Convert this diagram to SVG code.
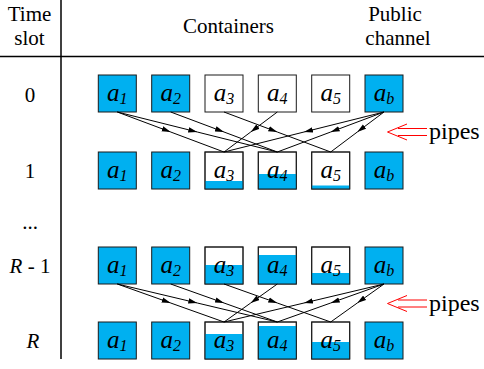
<svg xmlns="http://www.w3.org/2000/svg" width="484" height="369" viewBox="0 0 484 369" font-family="'Liberation Serif', 'Times New Roman', serif">
<defs>
<style>
text{font-family:'Liberation Serif','Times New Roman',serif;fill:#000}
.t{font-size:21px}
.hd{text-anchor:middle}
.it{font-style:italic}
.pp{font-size:24px}
.lbl{font-style:italic;font-size:25px;text-anchor:middle}
.sub{font-size:16px}
.box{fill:#fff;stroke:#1a1a1a;stroke-width:1}
.full{fill:#00B0F0;stroke:#1a1a1a;stroke-width:1}
.lvl{fill:#00B0F0;stroke:none}
.frame{fill:none;stroke:#1a1a1a;stroke-width:1}
.edge{fill:none;stroke:#000;stroke-width:1;marker-mid:url(#ah)}
.red{fill:none;stroke:#FF0000;stroke-width:1}
.rule{stroke:#000;stroke-width:1.5}
</style>
<marker id="ah" viewBox="0 0 10 6" refX="10" refY="3" markerWidth="9" markerHeight="6" markerUnits="userSpaceOnUse" orient="auto">
<path d="M0,0 L10,3 L0,6 Z" fill="#000"/>
</marker>
</defs>
<rect width="484" height="369" fill="#fff"/>
<g id="table">
<line class="rule" x1="61" y1="0" x2="61" y2="359"/>
<line class="rule" x1="0" y1="56.5" x2="484" y2="56.5"/>
<text class="t hd" x="29.5" y="21">Time</text>
<text class="t hd" x="29.5" y="45">slot</text>
<text class="t hd" x="228.5" y="33">Containers</text>
<text class="t hd" x="395" y="21">Public</text>
<text class="t hd" x="398" y="45">channel</text>
<text class="t hd" x="30" y="102">0</text>
<text class="t hd" x="30" y="178">1</text>
<text class="t hd" x="30" y="229">...</text>
<text class="t hd" x="30" y="273"><tspan class="it">R</tspan> - 1</text>
<text class="t hd it" x="33" y="348">R</text>
</g>
<g id="row0">
<g id="r0a1"><rect class="full" x="98.3" y="75" width="38" height="37"/><text class="lbl" x="117.3" y="101">a<tspan class="sub" dy="3">1</tspan></text></g>
<g id="r0a2"><rect class="full" x="151.7" y="75" width="38" height="37"/><text class="lbl" x="170.7" y="101">a<tspan class="sub" dy="3">2</tspan></text></g>
<g id="r0a3"><rect class="box" x="205" y="75" width="38" height="37"/><text class="lbl" x="224" y="101">a<tspan class="sub" dy="3">3</tspan></text></g>
<g id="r0a4"><rect class="box" x="258.3" y="75" width="38" height="37"/><text class="lbl" x="277.3" y="101">a<tspan class="sub" dy="3">4</tspan></text></g>
<g id="r0a5"><rect class="box" x="311.7" y="75" width="38" height="37"/><text class="lbl" x="330.7" y="101">a<tspan class="sub" dy="3">5</tspan></text></g>
<g id="r0ab"><rect class="full" x="365" y="75" width="38" height="37"/><text class="lbl" x="384" y="101">a<tspan class="sub" dy="3">b</tspan></text></g>
</g>
<g id="row1">
<g id="r1a1"><rect class="full" x="98.3" y="152" width="38" height="37"/><text class="lbl" x="117.3" y="178">a<tspan class="sub" dy="3">1</tspan></text></g>
<g id="r1a2"><rect class="full" x="151.7" y="152" width="38" height="37"/><text class="lbl" x="170.7" y="178">a<tspan class="sub" dy="3">2</tspan></text></g>
<g id="r1a3"><rect class="box" x="205" y="152" width="38" height="37"/><rect class="lvl" x="205" y="181" width="38" height="8"/><rect class="frame" x="205" y="152" width="38" height="37"/><text class="lbl" x="224" y="178">a<tspan class="sub" dy="3">3</tspan></text></g>
<g id="r1a4"><rect class="box" x="258.3" y="152" width="38" height="37"/><rect class="lvl" x="258.3" y="174" width="38" height="15"/><rect class="frame" x="258.3" y="152" width="38" height="37"/><text class="lbl" x="277.3" y="178">a<tspan class="sub" dy="3">4</tspan></text></g>
<g id="r1a5"><rect class="box" x="311.7" y="152" width="38" height="37"/><rect class="lvl" x="311.7" y="185.5" width="38" height="3.5"/><rect class="frame" x="311.7" y="152" width="38" height="37"/><text class="lbl" x="330.7" y="178">a<tspan class="sub" dy="3">5</tspan></text></g>
<g id="r1ab"><rect class="full" x="365" y="152" width="38" height="37"/><text class="lbl" x="384" y="178">a<tspan class="sub" dy="3">b</tspan></text></g>
</g>
<g id="rowR1">
<g id="r2a1"><rect class="full" x="98.3" y="247" width="38" height="37"/><text class="lbl" x="117.3" y="273">a<tspan class="sub" dy="3">1</tspan></text></g>
<g id="r2a2"><rect class="full" x="151.7" y="247" width="38" height="37"/><text class="lbl" x="170.7" y="273">a<tspan class="sub" dy="3">2</tspan></text></g>
<g id="r2a3"><rect class="box" x="205" y="247" width="38" height="37"/><rect class="lvl" x="205" y="265" width="38" height="19"/><rect class="frame" x="205" y="247" width="38" height="37"/><text class="lbl" x="224" y="273">a<tspan class="sub" dy="3">3</tspan></text></g>
<g id="r2a4"><rect class="box" x="258.3" y="247" width="38" height="37"/><rect class="lvl" x="258.3" y="255" width="38" height="29"/><rect class="frame" x="258.3" y="247" width="38" height="37"/><text class="lbl" x="277.3" y="273">a<tspan class="sub" dy="3">4</tspan></text></g>
<g id="r2a5"><rect class="box" x="311.7" y="247" width="38" height="37"/><rect class="lvl" x="311.7" y="273" width="38" height="11"/><rect class="frame" x="311.7" y="247" width="38" height="37"/><text class="lbl" x="330.7" y="273">a<tspan class="sub" dy="3">5</tspan></text></g>
<g id="r2ab"><rect class="full" x="365" y="247" width="38" height="37"/><text class="lbl" x="384" y="273">a<tspan class="sub" dy="3">b</tspan></text></g>
</g>
<g id="rowR">
<g id="r3a1"><rect class="full" x="98.3" y="322" width="38" height="37"/><text class="lbl" x="117.3" y="348">a<tspan class="sub" dy="3">1</tspan></text></g>
<g id="r3a2"><rect class="full" x="151.7" y="322" width="38" height="37"/><text class="lbl" x="170.7" y="348">a<tspan class="sub" dy="3">2</tspan></text></g>
<g id="r3a3"><rect class="box" x="205" y="322" width="38" height="37"/><rect class="lvl" x="205" y="334" width="38" height="25"/><rect class="frame" x="205" y="322" width="38" height="37"/><text class="lbl" x="224" y="348">a<tspan class="sub" dy="3">3</tspan></text></g>
<g id="r3a4"><rect class="box" x="258.3" y="322" width="38" height="37"/><rect class="lvl" x="258.3" y="326" width="38" height="33"/><rect class="frame" x="258.3" y="322" width="38" height="37"/><text class="lbl" x="277.3" y="348">a<tspan class="sub" dy="3">4</tspan></text></g>
<g id="r3a5"><rect class="box" x="311.7" y="322" width="38" height="37"/><rect class="lvl" x="311.7" y="342" width="38" height="17"/><rect class="frame" x="311.7" y="322" width="38" height="37"/><text class="lbl" x="330.7" y="348">a<tspan class="sub" dy="3">5</tspan></text></g>
<g id="r3ab"><rect class="full" x="365" y="322" width="38" height="37"/><text class="lbl" x="384" y="348">a<tspan class="sub" dy="3">b</tspan></text></g>
</g>
<g id="connectors">
<path class="edge" d="M117.3,112 L170.7,132 L224,152"/>
<path class="edge" d="M117.3,112 L197.3,132 L277.3,152"/>
<path class="edge" d="M170.7,112 L224,132 L277.3,152"/>
<path class="edge" d="M224,112 L277.3,132 L330.7,152"/>
<path class="edge" d="M277.3,112 L250.7,132 L224,152"/>
<path class="edge" d="M384,112 L304,132 L224,152"/>
<path class="edge" d="M384,112 L330.7,132 L277.3,152"/>
<path class="edge" d="M384,112 L357.3,132 L330.7,152"/>
<path class="edge" d="M117.3,284 L170.7,303 L224,322"/>
<path class="edge" d="M117.3,284 L197.3,303 L277.3,322"/>
<path class="edge" d="M170.7,284 L224,303 L277.3,322"/>
<path class="edge" d="M224,284 L277.3,303 L330.7,322"/>
<path class="edge" d="M277.3,284 L250.7,303 L224,322"/>
<path class="edge" d="M384,284 L304,303 L224,322"/>
<path class="edge" d="M384,284 L330.7,303 L277.3,322"/>
<path class="edge" d="M384,284 L357.3,303 L330.7,322"/>
</g>
<g id="pipes1">
<path class="red" d="M407,124 L387.5,132 L407,140 M398,128.5 L427,128.5 M398,135.5 L427,135.5"/>
<text class="pp" x="429" y="139">pipes</text>
</g>
<g id="pipes2">
<path class="red" d="M407,295.5 L387.5,303.5 L407,311.5 M398,300 L427,300 M398,307 L427,307"/>
<text class="pp" x="429" y="310.5">pipes</text>
</g>
</svg>
